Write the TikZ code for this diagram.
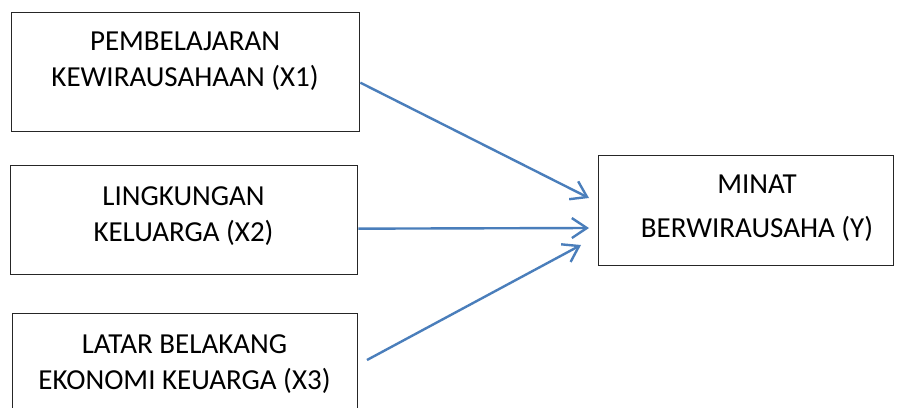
\documentclass[tikz,border=0pt]{standalone}
\usepackage{fontspec}
\setmainfont{Carlito}
\usetikzlibrary{arrows.meta}
\definecolor{arrowblue}{HTML}{4A7EBB}
\tikzset{
  box/.style={draw=black!85, line width=1.3pt, inner sep=0pt, anchor=north west},
  label/.style={align=center, inner sep=0pt, anchor=north,
    font=\fontsize{29pt}{36pt}\selectfont},
  arr/.style={draw=arrowblue, line width=2.4pt,
    -{Straight Barb[length=15pt,width=20pt,line width=2.4pt]}}
}
\begin{document}
\begin{tikzpicture}[x=1pt,y=-1pt]
  \useasboundingbox[fill=white] (0,0) rectangle (904,407);
  % boxes
  \node[box, minimum width=348pt, minimum height=119pt] (b1) at (11,12) {};
  \node[box, minimum width=347pt, minimum height=109pt] (b2) at (10,165) {};
  \node[box, minimum width=345pt, minimum height=110pt] (b3) at (12,313) {};
  \node[box, minimum width=295pt, minimum height=110pt] (y) at (598,155) {};
  % captions
  \node[label] (t1) at (185,32) {PEMBELAJARAN\\KEWIRAUSAHAAN (X1)};
  \node[label] (t2) at (183.5,186) {LINGKUNGAN\\KELUARGA (X2)};
  \node[label] (t3) at (184.5,334) {LATAR BELAKANG\\EKONOMI KEUARGA (X3)};
  \node[label, font=\fontsize{29pt}{44pt}\selectfont] (ty) at (757,175) {MINAT\\BERWIRAUSAHA (Y)};
  % arrow targets in front of the outcome box
  \coordinate (e1) at (589,198);
  \coordinate (e2) at (589,228);
  \coordinate (e3) at (581,245);
  \coordinate (s3) at (367,360);
  \draw[arr] ([yshift=-10.5pt]b1.east) -- (e1);
  \draw[arr] ([yshift=-8.5pt]b2.east) -- (e2);
  \draw[arr] (s3) -- (e3);
\end{tikzpicture}
\end{document}
